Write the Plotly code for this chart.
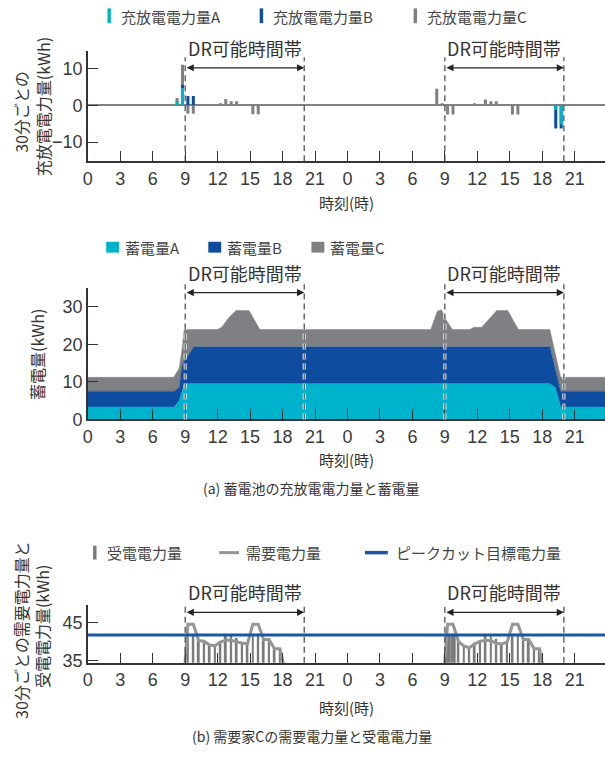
import plotly.graph_objects as go

W, H = 605, 760

# ---------------- shared time axis (two days, hours) ----------------
tick_hours = [0, 3, 6, 9, 12, 15, 18, 21, 24, 27, 30, 33, 36, 39, 42, 45]
tick_text = ["0", "3", "6", "9", "12", "15", "18", "21",
             "0", "3", "6", "9", "12", "15", "18", "21"]
dr_windows = [(9, 20), (33, 44)]
dr_label = "DR可能時間帯"

# ---------------- (a) charge / discharge per 30 min (kWh) ----------------
a_slot = [8.25, 8.75, 43.25, 43.75]
a_kwh = [1.2, 4.7, -1.2, -5.2]
b_slot = [8.75, 9.25, 9.75, 43.25, 43.75]
b_kwh = [5.5, 2.5, 2.5, -6.3, -6.3]
c_slot = [8.25, 8.75, 9.25, 9.75, 12.25, 12.75, 13.25, 13.75, 15.25, 15.75,
          32.25, 32.75, 33.25, 33.75, 35.75, 36.75, 37.25, 37.75, 39.25, 39.75]
c_kwh = [2.0, 11.0, -2.3, -2.3, 0.3, 1.7, 1.1, 1.1, -2.4, -2.4,
         4.5, 0.3, -2.5, -2.5, 0.3, 1.6, 1.1, 1.1, -2.5, -2.5]

# ---------------- (a) stored energy (kWh) ----------------
soc_t = [0, 7.9, 8.0, 8.45, 8.7, 8.9, 9.1, 9.8, 12.0, 12.4, 13.0, 13.7, 14.9, 15.9,
         31.7, 32.3, 32.7, 33.0, 33.7, 35.3, 35.7, 36.4, 37.8, 38.8, 39.8,
         42.7, 43.2, 43.7, 47.8]
soc_a = [3.3, 3.3, 3.3, 5.0, 7.5, 9.2, 9.5, 9.5, 9.5, 9.5, 9.5, 9.5, 9.5, 9.5,
         9.5, 9.5, 9.5, 9.5, 9.5, 9.5, 9.5, 9.5, 9.5, 9.5, 9.5,
         9.5, 8.5, 3.3, 3.3]
soc_b = [4.2, 4.2, 4.2, 3.5, 6.5, 6.3, 6.7, 9.8, 9.8, 9.8, 9.8, 9.8, 9.8, 9.8,
         9.8, 9.8, 9.8, 9.8, 9.8, 9.8, 9.8, 9.8, 9.8, 9.8, 9.8,
         9.8, 5.0, 4.2, 4.2]
soc_c = [3.7, 3.7, 4.0, 5.1, 4.5, 8.4, 7.7, 4.6, 4.6, 5.3, 7.7, 9.7, 9.7, 4.6,
         4.6, 9.5, 9.9, 7.7, 4.6, 4.6, 5.2, 5.2, 9.7, 9.7, 4.6,
         4.6, 4.0, 3.7, 3.7]

# ---------------- (b) customer C demand / received (kWh per 30 min) ----------------
dem_t = [8.75, 9.25, 9.75, 10.25, 10.75, 11.25, 11.75, 12.25, 12.75, 13.25, 13.75,
         14.25, 14.75, 15.25, 15.75, 16.25, 16.75, 17.25, 17.75, 18.25, None,
         32.75, 33.25, 33.75, 34.25, 34.75, 35.25, 35.75, 36.25, 36.75, 37.25, 37.75,
         38.25, 38.75, 39.25, 39.75, 40.25, 40.75, 41.25, 41.75, 42.25]
dem_kwh = [25, 44.5, 44.5, 40.2, 40.0, 39.0, 38.8, 39.8, 40.3, 40.3, 39.8,
           39.5, 39.3, 44.5, 44.5, 40.5, 40.5, 38.0, 38.0, 32, None,
           25, 44.5, 44.5, 40.0, 38.8, 38.3, 39.3, 40.0, 40.2, 40.2, 39.5,
           39.3, 39.8, 44.5, 44.5, 40.5, 40.5, 38.0, 38.0, 30]
rcv_t = [9.25, 9.75, 10.25, 10.75, 11.25, 11.75, 12.25, 12.75, 13.25, 13.75,
         14.25, 14.75, 15.25, 15.75, 16.25, 16.75, 17.25, 17.75,
         33.25, 33.75, 34.25, 34.75, 35.25, 35.75, 36.25, 36.75, 37.25, 37.75,
         38.25, 38.75, 39.25, 39.75, 40.25, 40.75, 41.25, 41.75]
rcv_kwh = [42.0, 42.0, 40.2, 40.0, 39.0, 38.8, 40.1, 42.0, 41.4, 40.9,
           39.5, 39.3, 42.0, 42.0, 40.5, 40.5, 38.0, 38.0,
           42.0, 42.0, 40.0, 38.8, 38.3, 39.6, 40.0, 41.8, 41.3, 40.6,
           39.3, 39.8, 42.0, 42.0, 40.5, 40.5, 38.0, 38.0]
rcv_w = [0.18] * 18 + [0.5, 0.5] + [0.18] * 16
target_kwh = 41.7

# ---------------- style ----------------
CYAN = "#00b3cc"
BLUE = "#0d4c9f"
GRAY = "#7f8083"
DEM_GRAY = "#959595"
TARGET = "#1b55a6"
INK = "#333333"
JP = "Noto Sans CJK JP"
NUM = "Liberation Sans, Arial, sans-serif"

X_RANGE = [0, 47.8]
X_DOM = [83.5 / W, 1.0]


def py(y):
    """pixel row -> paper y"""
    return 1 - y / H


def px(x):
    return x / W


fig = go.Figure()

# ---- (a) top: charge/discharge bars (C behind, A in front) ----
for xs, ys, col in [(c_slot, c_kwh, GRAY), (b_slot, b_kwh, BLUE), (a_slot, a_kwh, CYAN)]:
    fig.add_trace(go.Bar(x=xs, y=ys, width=0.28, marker=dict(color=col, line=dict(width=0)),
                         xaxis="x", yaxis="y", showlegend=False, hoverinfo="skip"))

# ---- (a) middle: stacked stored energy ----
for ys, col in [(soc_a, CYAN), (soc_b, BLUE), (soc_c, GRAY)]:
    fig.add_trace(go.Scatter(x=soc_t, y=ys, mode="lines", stackgroup="soc",
                             line=dict(width=0.5, color=col), fillcolor=col,
                             xaxis="x2", yaxis="y2", showlegend=False, hoverinfo="skip"))

# ---- (b) bottom: received bars, demand line, target line ----
fig.add_trace(go.Bar(x=rcv_t, y=rcv_kwh, width=rcv_w, marker=dict(color="#7b7b7b", line=dict(width=0)),
                     xaxis="x3", yaxis="y3", showlegend=False, hoverinfo="skip"))
fig.add_trace(go.Scatter(x=dem_t, y=dem_kwh, mode="lines", line=dict(color=DEM_GRAY, width=3),
                         connectgaps=False, xaxis="x3", yaxis="y3", showlegend=False, hoverinfo="skip"))
fig.add_trace(go.Scatter(x=X_RANGE, y=[target_kwh, target_kwh], mode="lines",
                         line=dict(color=TARGET, width=3), xaxis="x3", yaxis="y3",
                         showlegend=False, hoverinfo="skip"))


def xaxis_cfg(anchor):
    return dict(domain=X_DOM, range=X_RANGE, anchor=anchor, tickmode="array",
                tickvals=tick_hours, ticktext=tick_text, ticks="inside", ticklen=10,
                tickwidth=1, tickcolor=INK, showline=True, linecolor=INK, linewidth=2,
                showgrid=False, zeroline=False, tickfont=dict(family=NUM, size=18, color="#3a3a3a"),
                fixedrange=True)


def yaxis_cfg(anchor, dom, rng, vals, zero=False):
    return dict(domain=dom, range=rng, anchor=anchor, tickmode="array", tickvals=vals,
                ticks="inside", ticklen=10, tickwidth=1, tickcolor=INK, showline=True,
                linecolor=INK, linewidth=1.5, showgrid=False, zeroline=zero,
                zerolinecolor="#808080", zerolinewidth=2,
                tickfont=dict(family=NUM, size=18, color="#3a3a3a"), fixedrange=True)


fig.update_layout(
    width=W, height=H, margin=dict(l=0, r=0, t=0, b=0),
    paper_bgcolor="white", plot_bgcolor="rgba(0,0,0,0)",
    barmode="overlay", showlegend=False,
    xaxis=xaxis_cfg("y"),
    yaxis=yaxis_cfg("x", [py(163.3), py(52)], [-15.17, 14.66], [-10, 0, 10], zero=True),
    xaxis2=xaxis_cfg("y2"),
    yaxis2=yaxis_cfg("x2", [py(425), py(291.7)], [0, 35], [0, 10, 20, 30]),
    xaxis3=xaxis_cfg("y3"),
    yaxis3=yaxis_cfg("x3", [py(671.7), py(612.7)], [34.3, 49.7], [35, 45]),
)

shapes = []
annos = []

# DR window markers: dashed boundaries, double arrow, label
panels = [("x", 58, 163.3, 68.7, 48.3, False),
          ("x2", 288, 425, 296.5, 276.7, True),
          ("x3", 611.7, 671.7, 620.5, 600, False)]
for xr, top, bot, arrow_y, label_y, halo in panels:
    for start, end in dr_windows:
        for xv in (start, end):
            if halo:
                shapes.append(dict(type="line", xref=xr, yref="paper", x0=xv, x1=xv,
                                   y0=py(bot), y1=py(top), layer="above",
                                   line=dict(color="white", width=3, dash="6px,4px")))
            shapes.append(dict(type="line", xref=xr, yref="paper", x0=xv, x1=xv,
                               y0=py(bot), y1=py(top), layer="above",
                               line=dict(color="#444444", width=1.2, dash="6px,4px")))
        annos.append(dict(x=end, y=py(arrow_y), xref=xr, yref="paper", ax=start, ay=0,
                          axref=xr, ayref="pixel", text="", showarrow=True,
                          arrowhead=2, arrowside="end+start", arrowsize=1.1,
                          arrowwidth=1.3, arrowcolor="#222222", standoff=0, startstandoff=0))
        annos.append(dict(x=(start + end) / 2, y=py(label_y), xref=xr, yref="paper",
                          text=dr_label, showarrow=False, xanchor="center", yanchor="middle",
                          font=dict(family=JP, size=18, color=INK)))


def text(x, y, s, size=15, anchor="left", angle=0, color="#444444"):
    annos.append(dict(x=px(x), y=py(y), xref="paper", yref="paper", text=s, showarrow=False,
                      xanchor=anchor, yanchor="middle", textangle=angle,
                      font=dict(family=JP, size=size, color=color)))


def rect(x0, x1, y0, y1, col):
    shapes.append(dict(type="rect", xref="paper", yref="paper", x0=px(x0), x1=px(x1),
                       y0=py(y1), y1=py(y0), fillcolor=col, line=dict(width=0)))


def hline(x0, x1, y, col, w):
    shapes.append(dict(type="line", xref="paper", yref="paper", x0=px(x0), x1=px(x1),
                       y0=py(y), y1=py(y), line=dict(color=col, width=w)))


# legend (top)
for x0, col, s in [(103.3, CYAN, "充放電電力量A"), (256.8, BLUE, "充放電電力量B"),
                   (412.0, GRAY, "充放電電力量C")]:
    rect(x0, x0 + 3.5, 8.5, 23.5, col)
    text(x0 + 11.5, 16.5, s)

# legend (middle)
for x0, col, s in [(102, CYAN, "蓄電量A"), (205, BLUE, "蓄電量B"), (309, GRAY, "蓄電量C")]:
    rect(x0, x0 + 13, 245, 256, col)
    text(x0 + 16.5, 251, s)

# legend (bottom)
rect(88.8, 92.3, 553, 567, "#7b7b7b")
text(101, 560, "受電電力量")
hline(216, 236, 560, DEM_GRAY, 3)
text(241, 560, "需要電力量")
hline(363, 386, 560, TARGET, 3.5)
text(392, 560, "ピークカット目標電力量")

# axis titles
text(15.4, 113, "30分ごとの", size=16, anchor="center", angle=-90, color=INK)
text(38.5, 108.5, "充放電電力量(kWh)", size=16, anchor="center", angle=-90, color=INK)
text(33, 359, "蓄電量(kWh)", size=16, anchor="center", angle=-90, color=INK)
text(15.4, 638, "30分ごとの需要電力量と", size=16, anchor="center", angle=-90, color=INK)
text(36.7, 635, "受電電力量(kWh)", size=16, anchor="center", angle=-90, color=INK)
for yy in (205, 466, 716.5):
    text(344, yy, "時刻(時)", size=15, anchor="center", color=INK)

# captions
text(309, 495, "(a) 蓄電池の充放電電力量と蓄電量", size=14, anchor="center", color=INK)
text(310, 746, "(b) 需要家Cの需要電力量と受電電力量", size=14, anchor="center", color=INK)

fig.update_layout(shapes=shapes, annotations=annos)
fig.write_html("out.html")
